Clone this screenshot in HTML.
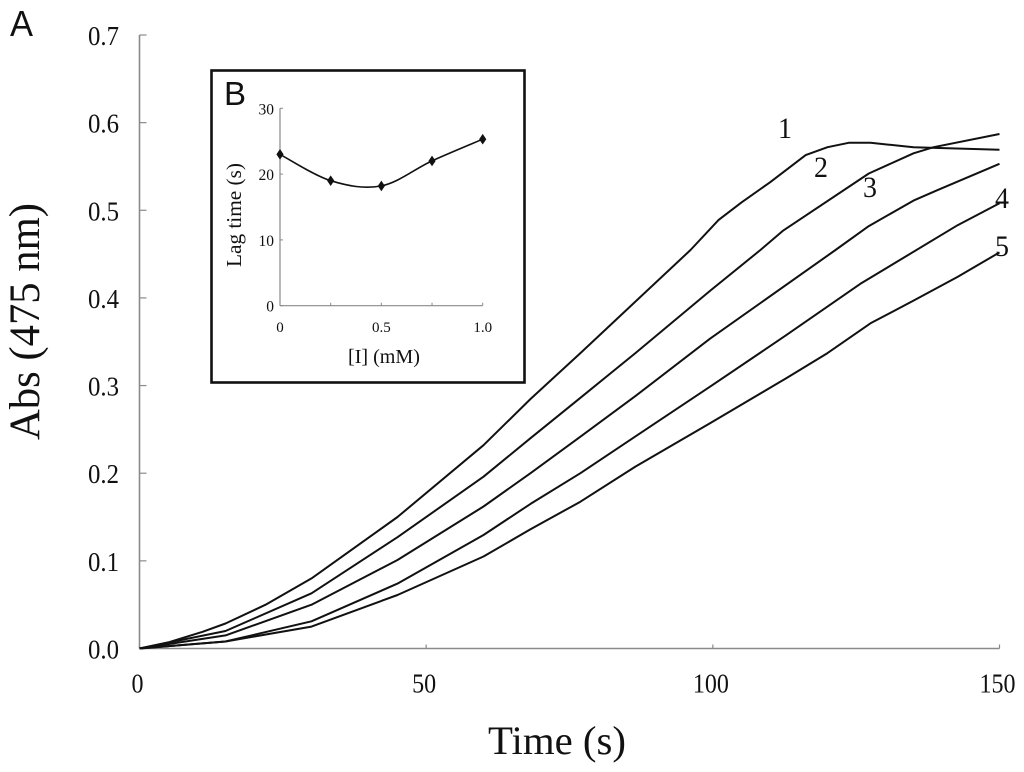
<!DOCTYPE html>
<html lang="en">
<head>
<meta charset="utf-8">
<title>Absorbance vs time</title>
<style>
html,body{margin:0;padding:0;background:#fff;}
svg{display:block;filter:blur(0.35px);}
text{font-family:"Liberation Serif",serif;fill:#111;}
.sans{font-family:"Liberation Sans",sans-serif;}
</style>
</head>
<body>
<svg id="chart" xmlns="http://www.w3.org/2000/svg" width="1024" height="772" viewBox="0 0 1024 772">
  <rect x="0" y="0" width="1024" height="772" fill="#fff"/>
  <text class="sans" x="10" y="36" font-size="36" textLength="23" lengthAdjust="spacingAndGlyphs">A</text>
  <text transform="translate(39 440) rotate(-90)" font-size="43" textLength="237" lengthAdjust="spacingAndGlyphs">Abs (475 nm)</text>
  <text x="488" y="754" font-size="40" textLength="138" lengthAdjust="spacingAndGlyphs">Time (s)</text>
  <g id="main-axes"></g>
  <g id="main-series"></g>
  <text x="778" y="138" font-size="30" textLength="14" lengthAdjust="spacingAndGlyphs">1</text>
  <text x="814" y="177" font-size="30" textLength="14" lengthAdjust="spacingAndGlyphs">2</text>
  <text x="863" y="197" font-size="30" textLength="14" lengthAdjust="spacingAndGlyphs">3</text>
  <text x="995" y="208" font-size="30" textLength="14" lengthAdjust="spacingAndGlyphs">4</text>
  <text x="995" y="256" font-size="30" textLength="14" lengthAdjust="spacingAndGlyphs">5</text>
  <rect x="211.5" y="70.5" width="313" height="312" fill="#fff" stroke="#111" stroke-width="2.6"/>
  <text class="sans" x="224" y="105" font-size="33">B</text>
  <text transform="translate(241 267) rotate(-90)" font-size="21" textLength="104" lengthAdjust="spacingAndGlyphs">Lag time (s)</text>
  <text x="348" y="363" font-size="20.5" textLength="72" lengthAdjust="spacingAndGlyphs">[I] (mM)</text>
  <g id="inset-axes"></g>
  <g id="inset-series"></g>
</svg>
<script>
// Main chart data
const xTicks = [0, 50, 100, 150];
const yTicks = [0.0, 0.1, 0.2, 0.3, 0.4, 0.5, 0.6, 0.7];
const curve1Times = [0, 5, 11, 15, 22, 30, 45, 60, 68.2, 76.9, 82.6, 96.1, 101, 105, 110, 116.2, 120, 123.7, 127.5, 135, 150];
const curve1Values = [0, 0.007, 0.019, 0.0285, 0.05, 0.08, 0.15, 0.232, 0.2847, 0.337, 0.372, 0.4547, 0.489, 0.509, 0.532, 0.563, 0.572, 0.577, 0.577, 0.572, 0.569];
const curve2Times = [0, 15, 30, 45, 60, 68.2, 76.9, 86.5, 99.5, 108.3, 112.3, 127.2, 135, 138.5, 150];
const curve2Values = [0, 0.02, 0.063, 0.127, 0.196, 0.24, 0.286, 0.337, 0.408, 0.4547, 0.477, 0.542, 0.565, 0.572, 0.587];
const curve3Times = [0, 15, 30, 45, 60, 68.2, 76.9, 86.5, 99.5, 121.4, 127.2, 135, 139.2, 150];
const curve3Values = [0, 0.015, 0.05, 0.101, 0.162, 0.2, 0.2417, 0.288, 0.3535, 0.4547, 0.482, 0.511, 0.523, 0.553];
const curve4Times = [0, 15, 30, 45, 60, 68.2, 76.9, 86.5, 99.5, 112.7, 125.7, 142.7, 150];
const curve4Values = [0, 0.008, 0.031, 0.074, 0.1295, 0.165, 0.2, 0.242, 0.2987, 0.357, 0.416, 0.483, 0.508];
const curve5Times = [0, 15, 30, 45, 60, 68.2, 76.9, 86.5, 99.5, 112.7, 120, 127.5, 135, 142.7, 150];
const curve5Values = [0, 0.008, 0.025, 0.061, 0.105, 0.136, 0.1675, 0.2075, 0.257, 0.308, 0.337, 0.371, 0.397, 0.424, 0.452];

// Inset data
const insetXTicks = [0, 0.25, 0.5, 0.75, 1.0];
const insetXTickLabels = ['0', '', '0.5', '', '1.0'];
const insetYTicks = [0, 10, 20, 30];
const insetConc = [0, 0.25, 0.5, 0.75, 1.0];
const insetLag = [23, 19, 18.2, 22, 25.3];

const NS = 'http://www.w3.org/2000/svg';
function make(tag, attrs, parent) {
  const el = document.createElementNS(NS, tag);
  for (const k in attrs) el.setAttribute(k, attrs[k]);
  parent.appendChild(el);
  return el;
}

// Axis functions
const xScale = t => 139.5 + t * (999.5 - 139.5) / 150;
const yScale = v => 648.5 - v * (648.5 - 35) / 0.7;
const ixScale = c => 280 + c * (482.7 - 280);
const iyScale = s => 305.7 - s * (305.7 - 108.3) / 30;

const axisColor = '#8a8a8a';
const mainAxes = document.getElementById('main-axes');
const mainSeries = document.getElementById('main-series');
const insetAxes = document.getElementById('inset-axes');
const insetSeries = document.getElementById('inset-series');

// Main axes
const xAxisLine = make('line', {x1: xScale(0), x2: xScale(150), y1: yScale(0), y2: yScale(0), stroke: axisColor, 'stroke-width': 1.6}, mainAxes);


const yAxisLine = make('line', {x1: xScale(0), x2: xScale(0), y1: yScale(0), y2: yScale(0.7), stroke: axisColor, 'stroke-width': 1.6}, mainAxes);



xTicks.forEach(t => {
  const tick = make('line', {x1: xScale(t), x2: xScale(t), y1: yScale(0), y2: yScale(0) - 4, stroke: axisColor, 'stroke-width': 1.2}, mainAxes);
  
  
  const text = String(t);
  const label = make('text', {x: xScale(t) - 2, y: 692.5, 'font-size': 27.5, 'text-anchor': 'middle', textLength: text.length * 12, lengthAdjust: 'spacingAndGlyphs'}, mainAxes);
  label.textContent = text;
  
  
});
yTicks.forEach(v => {
  const tick = make('line', {x1: xScale(0), x2: xScale(0) + 7, y1: yScale(v), y2: yScale(v), stroke: axisColor, 'stroke-width': 1.2}, mainAxes);
  
  
  const label = make('text', {x: 119, y: yScale(v) + 10, 'font-size': 27, 'text-anchor': 'end', textLength: 31, lengthAdjust: 'spacingAndGlyphs'}, mainAxes);
  label.textContent = v.toFixed(1);
  
  
});

// Main curves
function linePath(ts, vs) {
  return ts.map((t, i) => (i ? 'L' : 'M') + xScale(t).toFixed(1) + ' ' + yScale(vs[i]).toFixed(1)).join(' ');
}
const curve1 = make('path', {d: linePath(curve1Times, curve1Values), fill: 'none', stroke: '#111', 'stroke-width': 2, 'stroke-linejoin': 'round'}, mainSeries);


const curve2 = make('path', {d: linePath(curve2Times, curve2Values), fill: 'none', stroke: '#111', 'stroke-width': 2, 'stroke-linejoin': 'round'}, mainSeries);


const curve3 = make('path', {d: linePath(curve3Times, curve3Values), fill: 'none', stroke: '#111', 'stroke-width': 2, 'stroke-linejoin': 'round'}, mainSeries);


const curve4 = make('path', {d: linePath(curve4Times, curve4Values), fill: 'none', stroke: '#111', 'stroke-width': 2, 'stroke-linejoin': 'round'}, mainSeries);


const curve5 = make('path', {d: linePath(curve5Times, curve5Values), fill: 'none', stroke: '#111', 'stroke-width': 2, 'stroke-linejoin': 'round'}, mainSeries);



// Inset axes
const ixLine = make('line', {x1: ixScale(0), x2: ixScale(1), y1: iyScale(0), y2: iyScale(0), stroke: axisColor, 'stroke-width': 1.2}, insetAxes);


const iyLine = make('line', {x1: ixScale(0), x2: ixScale(0), y1: iyScale(0), y2: iyScale(30), stroke: axisColor, 'stroke-width': 1.2}, insetAxes);


insetXTicks.forEach((c, i) => {
  const tick = make('line', {x1: ixScale(c), x2: ixScale(c), y1: iyScale(0), y2: iyScale(0) - 3, stroke: axisColor, 'stroke-width': 1}, insetAxes);
  
  
  if (insetXTickLabels[i]) {
    const label = make('text', {x: ixScale(c), y: 332, 'font-size': 15, 'text-anchor': 'middle'}, insetAxes);
    label.textContent = insetXTickLabels[i];
    
    
  }
});
insetYTicks.forEach(s => {
  const tick = make('line', {x1: ixScale(0), x2: ixScale(0) + 3, y1: iyScale(s), y2: iyScale(s), stroke: axisColor, 'stroke-width': 1}, insetAxes);
  
  
  const label = make('text', {x: 274, y: iyScale(s) + 6, 'font-size': 15.5, 'text-anchor': 'end'}, insetAxes);
  label.textContent = String(s);
  
  
});

// Inset smooth line through the points (Catmull-Rom)
const ipts = insetConc.map((c, i) => [ixScale(c), iyScale(insetLag[i])]);
let id = 'M' + ipts[0][0].toFixed(1) + ' ' + ipts[0][1].toFixed(1);
for (let i = 0; i < ipts.length - 1; i++) {
  const p0 = ipts[Math.max(0, i - 1)], p1 = ipts[i], p2 = ipts[i + 1], p3 = ipts[Math.min(ipts.length - 1, i + 2)];
  const c1x = p1[0] + (p2[0] - p0[0]) / 6, c1y = p1[1] + (p2[1] - p0[1]) / 6;
  const c2x = p2[0] - (p3[0] - p1[0]) / 6, c2y = p2[1] - (p3[1] - p1[1]) / 6;
  id += ' C' + c1x.toFixed(1) + ' ' + c1y.toFixed(1) + ' ' + c2x.toFixed(1) + ' ' + c2y.toFixed(1) + ' ' + p2[0].toFixed(1) + ' ' + p2[1].toFixed(1);
}
const insetLine = make('path', {d: id, fill: 'none', stroke: '#111', 'stroke-width': 1.6}, insetSeries);


ipts.forEach(p => {
  const marker = make('path', {d: 'M' + p[0] + ' ' + (p[1] - 5.3) + ' L' + (p[0] + 3.6) + ' ' + p[1] + ' L' + p[0] + ' ' + (p[1] + 5.3) + ' L' + (p[0] - 3.6) + ' ' + p[1] + ' Z', fill: '#111'}, insetSeries);
  
  
});
</script>
</body>
</html>
